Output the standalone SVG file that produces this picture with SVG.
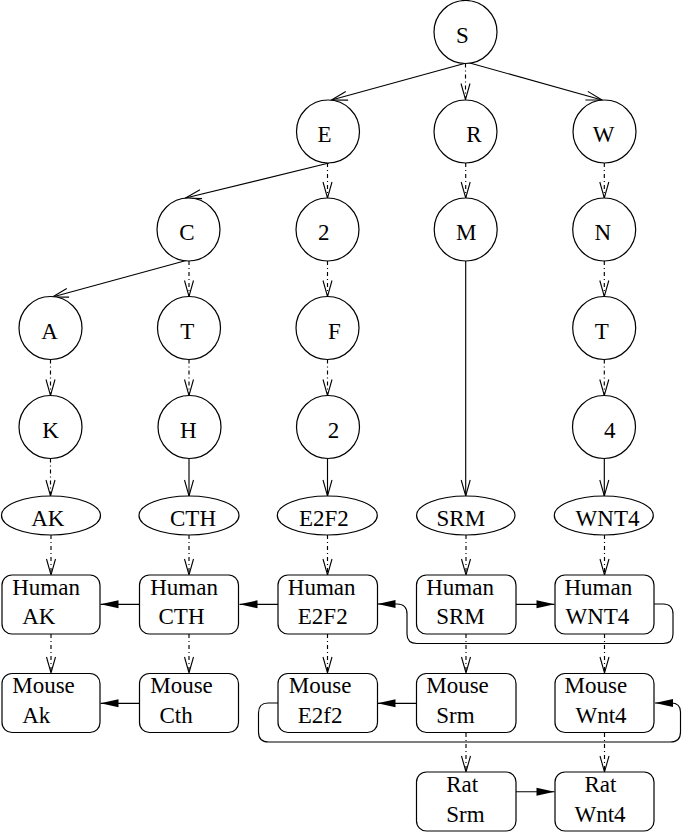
<svg xmlns="http://www.w3.org/2000/svg" width="685" height="833" viewBox="0 0 685 833">
<defs>
<style>
.n{fill:#fff;stroke:#000;stroke-width:1.2}
.m{text-anchor:middle}
.c{fill:none;stroke:#000;stroke-width:1.15}
.d{stroke-dasharray:4 3 1 3}
.o{marker-end:url(#open)}
.f{marker-end:url(#fill)}
</style>
<marker id="open" markerUnits="userSpaceOnUse" markerWidth="20" markerHeight="12" refX="17" refY="5" orient="auto" overflow="visible">
<path d="M1,0.5 L17,5 L1,9.5" fill="none" stroke="#000" stroke-width="1.1"/>
</marker>
<marker id="fill" markerUnits="userSpaceOnUse" markerWidth="20" markerHeight="10" refX="18" refY="4" orient="auto" overflow="visible">
<path d="M0,0 L18,4 L0,8 Z" fill="#000"/>
</marker>
</defs>
<rect width="685" height="833" fill="#fff"/>
<g id="connectors">
<path class="c o" d="M468,62.5 L331.5,100"/>
<path class="c o" d="M468,62.5 L602,100"/>
<path class="c o" d="M329,163 L185.5,198"/>
<path class="c o" d="M188,260 L52.5,297"/>
<path class="c o" d="M189,458.5 L189,496"/>
<path class="c o" d="M327.5,458.5 L327.5,496"/>
<path class="c o" d="M465.7,261 L465.7,496"/>
<path class="c o" d="M604.3,458.5 L604.3,496"/>
<path class="c d o" d="M465.5,63.5 L465.5,99.5"/>
<path class="c d o" d="M327.5,163 L327.5,198"/>
<path class="c d o" d="M465.7,163 L465.7,198"/>
<path class="c d o" d="M604.3,163 L604.3,198"/>
<path class="c d o" d="M189,261 L189,296.5"/>
<path class="c d o" d="M327.5,261 L327.5,296.5"/>
<path class="c d o" d="M604.3,261 L604.3,296.5"/>
<path class="c d o" d="M50.5,359.5 L50.5,395.5"/>
<path class="c d o" d="M189,359.5 L189,395.5"/>
<path class="c d o" d="M327.5,359.5 L327.5,395.5"/>
<path class="c d o" d="M604.3,359.5 L604.3,395.5"/>
<path class="c d o" d="M50.5,458.5 L50.5,496"/>
<path class="c d o" d="M51,535 L51,575"/>
<path class="c d o" d="M189,535 L189,575"/>
<path class="c d o" d="M327.5,535 L327.5,575"/>
<path class="c d o" d="M466,535 L466,575"/>
<path class="c d o" d="M604.5,535 L604.5,575"/>
<path class="c d o" d="M51,634 L51,673"/>
<path class="c d o" d="M189,634 L189,673"/>
<path class="c d o" d="M327.5,634 L327.5,673"/>
<path class="c d o" d="M466,634 L466,673"/>
<path class="c d o" d="M604.5,634 L604.5,673"/>
<path class="c d o" d="M466,733 L466,772"/>
<path class="c d o" d="M604.5,733 L604.5,772"/>
<path class="c f" d="M139,604.3 L100.5,604.3"/>
<path class="c f" d="M278,604.3 L239.5,604.3"/>
<path class="c f" d="M516,604.3 L554.5,604.3"/>
<path class="c f" d="M654,604 L663,604 Q673,604 673,614 L673,634 Q673,643.5 663,643.5 L417,643.5 Q407,643.5 407,634 L407,614 Q407,604 397,604 L377.5,604"/>
<path class="c f" d="M139,703.3 L100.5,703.3"/>
<path class="c f" d="M416,703.3 L377.5,703.3"/>
<path class="c f" d="M278,703 L268,703 Q258.5,703 258.5,713 L258.5,732 Q258.5,742 268.5,742 L670.5,742 Q680.5,742 680.5,732 L680.5,712 Q680.5,703 671,703 L655,703"/>
<path class="c f" d="M516,791.7 L554.5,791.7"/>
</g>
<g id="nodes" font-family="Liberation Serif, Times New Roman, serif" font-size="23" fill="#000">
<g id="S"><circle class="n" cx="465.5" cy="32" r="31.5"/><text class="m" x="462.5" y="42.5">S</text></g>
<g id="E"><circle class="n" cx="328" cy="131.5" r="31.5"/><text class="m" x="324.5" y="141.5">E</text></g>
<g id="R"><circle class="n" cx="465.5" cy="131.5" r="31.5"/><text class="m" x="474" y="141.5">R</text></g>
<g id="W"><circle class="n" cx="604.5" cy="131.5" r="31.5"/><text class="m" x="603.5" y="141.5">W</text></g>
<g id="C"><circle class="n" cx="188.5" cy="229.5" r="31.5"/><text class="m" x="187" y="240">C</text></g>
<g id="E2a"><circle class="n" cx="327.5" cy="229.5" r="31.5"/><text class="m" x="323.8" y="240">2</text></g>
<g id="M"><circle class="n" cx="465.7" cy="229.5" r="31.5"/><text class="m" x="466.3" y="240">M</text></g>
<g id="N"><circle class="n" cx="604.2" cy="229.5" r="31.5"/><text class="m" x="602.8" y="240">N</text></g>
<g id="A"><circle class="n" cx="50.5" cy="328" r="31.5"/><text class="m" x="49.5" y="338.5">A</text></g>
<g id="T1"><circle class="n" cx="189" cy="328" r="31.5"/><text class="m" x="187.2" y="338.5">T</text></g>
<g id="F"><circle class="n" cx="327.5" cy="328" r="31.5"/><text class="m" x="334.5" y="338.5">F</text></g>
<g id="T2"><circle class="n" cx="604.2" cy="328" r="31.5"/><text class="m" x="601.7" y="338.5">T</text></g>
<g id="K"><circle class="n" cx="50.5" cy="427" r="31.5"/><text class="m" x="50.5" y="437.5">K</text></g>
<g id="H"><circle class="n" cx="189.5" cy="427" r="31.5"/><text class="m" x="188.3" y="437.5">H</text></g>
<g id="E2b"><circle class="n" cx="328" cy="427" r="31.5"/><text class="m" x="333.5" y="437.5">2</text></g>
<g id="W4"><circle class="n" cx="604" cy="427" r="31.5"/><text class="m" x="609.7" y="437.5">4</text></g>
<g id="gAK"><ellipse class="n" cx="51" cy="515.5" rx="49.5" ry="19.5"/><text class="m" x="47.8" y="526">AK</text></g>
<g id="gCTH"><ellipse class="n" cx="189" cy="515.5" rx="50" ry="19.5"/><text class="m" x="193" y="526">CTH</text></g>
<g id="gE2F2"><ellipse class="n" cx="327.3" cy="515.5" rx="50" ry="19.5"/><text class="m" x="323.8" y="526">E2F2</text></g>
<g id="gSRM"><ellipse class="n" cx="465.8" cy="515.5" rx="49.2" ry="19.5"/><text class="m" x="460.8" y="526">SRM</text></g>
<g id="gWNT4"><ellipse class="n" cx="603.8" cy="515.5" rx="49.5" ry="19.5"/><text class="m" x="607.5" y="526">WNT4</text></g>
<g id="hAK"><rect class="n" x="2" y="575" width="98" height="59" rx="10"/><text x="12.2" y="595">Human</text><text x="22.2" y="624">AK</text></g>
<g id="hCTH"><rect class="n" x="139.5" y="575" width="99" height="59" rx="10"/><text x="150.2" y="595">Human</text><text x="158.5" y="624">CTH</text></g>
<g id="hE2F2"><rect class="n" x="278" y="575" width="99.5" height="59" rx="10"/><text x="287.8" y="595">Human</text><text x="297.8" y="624">E2F2</text></g>
<g id="hSRM"><rect class="n" x="416.5" y="575" width="99.5" height="59" rx="10"/><text x="426.2" y="595">Human</text><text x="436.2" y="624">SRM</text></g>
<g id="hWNT4"><rect class="n" x="555" y="575" width="99" height="59" rx="10"/><text x="564.5" y="595">Human</text><text x="565.5" y="624">WNT4</text></g>
<g id="mAk"><rect class="n" x="2" y="673.5" width="98" height="59" rx="10"/><text x="12.2" y="693.3">Mouse</text><text x="22.2" y="722.7">Ak</text></g>
<g id="mCth"><rect class="n" x="139.5" y="673.5" width="99" height="59" rx="10"/><text x="150.2" y="693.3">Mouse</text><text x="159.5" y="722.7">Cth</text></g>
<g id="mE2f2"><rect class="n" x="278" y="673.5" width="99.5" height="59" rx="10"/><text x="288.8" y="693.3">Mouse</text><text x="297.8" y="722.7">E2f2</text></g>
<g id="mSrm"><rect class="n" x="416.5" y="673.5" width="99.5" height="59" rx="10"/><text x="426.2" y="693.3">Mouse</text><text x="436.2" y="722.7">Srm</text></g>
<g id="mWnt4"><rect class="n" x="555" y="673.5" width="99" height="59" rx="10"/><text x="564.5" y="693.3">Mouse</text><text x="575.5" y="722.7">Wnt4</text></g>
<g id="rSrm"><rect class="n" x="416.5" y="772" width="99.5" height="59" rx="10"/><text x="446.2" y="791.7">Rat</text><text x="446.2" y="821.7">Srm</text></g>
<g id="rWnt4"><rect class="n" x="555" y="772" width="99" height="59" rx="10"/><text x="584.5" y="791.7">Rat</text><text x="574.5" y="821.7">Wnt4</text></g>
</g>
</svg>
